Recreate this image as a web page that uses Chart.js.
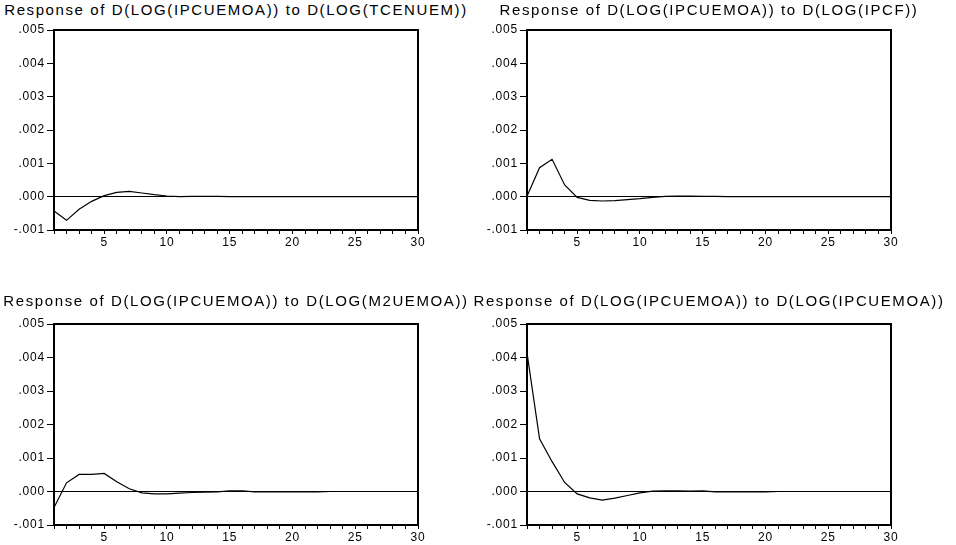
<!DOCTYPE html>
<html>
<head>
<meta charset="utf-8">
<script src="https://cdn.jsdelivr.net/npm/chart.js@4.4.0/dist/chart.umd.min.js"></script>
<style>
  html, body { margin: 0; padding: 0; background: #fff; }
  #page { position: relative; width: 956px; height: 545px; overflow: hidden; }
  #page canvas { position: absolute; left: 0; top: 0; }
  .title {
    position: absolute; white-space: nowrap; color: #000;
    font-family: 'Liberation Sans', Arial, sans-serif; font-size: 15px;
    letter-spacing: 1.6px; line-height: 20px; transform: translateX(-50%);
  }
</style>
</head>
<body>
<div id="page"></div>
<script>
// impulse response horizons (periods)
const periods = [1, 2, 3, 4, 5, 6, 7, 8, 9, 10, 11, 12, 13, 14, 15,
                 16, 17, 18, 19, 20, 21, 22, 23, 24, 25, 26, 27, 28, 29, 30];
const xTickLabels = [5, 10, 15, 20, 25, 30];
const yTicks = [-0.001, 0, 0.001, 0.002, 0.003, 0.004, 0.005];

const titles = [
  'Response of D(LOG(IPCUEMOA)) to D(LOG(TCENUEM))',
  'Response of D(LOG(IPCUEMOA)) to D(LOG(IPCF))',
  'Response of D(LOG(IPCUEMOA)) to D(LOG(M2UEMOA))',
  'Response of D(LOG(IPCUEMOA)) to D(LOG(IPCUEMOA))'
];

const respTcenuem = [-0.00043, -0.00071, -0.00038, -0.00014, 0.00003, 0.00013, 0.00016, 0.00011, 0.00006, 0.00002,
                     0.00000, 0.00001, 0.00001, 0.00001, 0.00000, 0, 0, 0, 0, 0,
                     0, 0, 0, 0, 0, 0, 0, 0, 0, 0];
const respIpcf = [0.00001, 0.00087, 0.00112, 0.00035, -0.00002, -0.00011, -0.00013, -0.00012, -0.00009, -0.00006,
                  -0.00002, 0.00001, 0.00002, 0.00002, 0.00001, 0.00001, 0, 0, 0, 0,
                  0, 0, 0, 0, 0, 0, 0, 0, 0, 0];
const respM2 = [-0.00048, 0.00026, 0.00051, 0.00051, 0.00054, 0.00029, 0.00008, -0.00004, -0.00007, -0.00007,
                -0.00005, -0.00003, -0.00002, -0.00001, 0.00002, 0.00002, -0.00001, -0.00001, -0.00001, -0.00001,
                -0.00001, -0.00001, 0, 0, 0, 0, 0, 0, 0, 0];
const respIpc = [0.00414, 0.00157, 0.00089, 0.00027, -0.00007, -0.00019, -0.00026, -0.00020, -0.00012, -0.00004,
                 0.00001, 0.00002, 0.00002, 0.00001, 0.00002, -0.00001, -0.00001, -0.00001, -0.00001, -0.00001,
                 0, 0, 0, 0, 0, 0, 0, 0, 0, 0];

const series = [respTcenuem, respIpcf, respM2, respIpc];

// plot boxes on the page: left, top, right, bottom
const boxes = [
  { l: 54, t: 30, r: 418, b: 230 },
  { l: 527, t: 30, r: 891, b: 230 },
  { l: 54, t: 324, r: 418, b: 525 },
  { l: 527, t: 324, r: 891, b: 525 }
];

const W = 956, H = 545, YW = 50, XH = 22;

Chart.defaults.font.family = "'Liberation Sans', Arial, sans-serif";
Chart.defaults.font.size = 12;
Chart.defaults.color = '#000';

const fmt = (v) => {
  if (Math.abs(v) < 1e-9) return '.000';
  return v.toFixed(3).replace('0.', '.');
};

const framePlugin = {
  id: 'frame',
  beforeDraw(chart) {
    chart.ctx.letterSpacing = '0.8px';
  },
  afterDatasetsDraw(chart) {
    const { ctx, chartArea: a } = chart;
    ctx.save();
    ctx.strokeStyle = '#000';
    ctx.lineWidth = 2;
    ctx.strokeRect(a.left, a.top, a.right - a.left, a.bottom - a.top);
    ctx.restore();
  }
};

const page = document.getElementById('page');

boxes.forEach((box, i) => {
  const title = document.createElement('div');
  title.className = 'title';
  title.textContent = titles[i];
  title.style.left = ((box.l + box.r) / 2) + 'px';
  title.style.top = (i < 2 ? 0 : 291) + 'px';
  page.appendChild(title);

  const canvas = document.createElement('canvas');
  canvas.width = W;
  canvas.height = H;
  page.appendChild(canvas);

  new Chart(canvas.getContext('2d'), {
    type: 'line',
    data: {
      datasets: [{
        data: periods.map((p, k) => ({ x: p, y: series[i][k] })),
        borderColor: '#000',
        borderWidth: 1.2,
        pointRadius: 0,
        tension: 0,
        fill: false
      }]
    },
    options: {
      responsive: false,
      animation: false,
      events: [],
      layout: {
        padding: { left: box.l - YW, top: box.t, right: W - box.r, bottom: H - box.b - XH }
      },
      plugins: { legend: { display: false }, tooltip: { enabled: false } },
      scales: {
        x: {
          type: 'linear',
          min: 1,
          max: 30,
          afterBuildTicks: (s) => { s.ticks = periods.map(v => ({ value: v })); },
          afterFit: (s) => { s.height = XH; },
          border: { display: false },
          grid: { drawOnChartArea: false, drawTicks: true, tickLength: 4, tickColor: '#000', lineWidth: 1 },
          ticks: {
            autoSkip: false, maxRotation: 0, padding: 1,
            callback: (v) => xTickLabels.includes(v) ? String(v) : ''
          }
        },
        y: {
          min: -0.001,
          max: 0.005,
          afterBuildTicks: (s) => { s.ticks = yTicks.map(v => ({ value: v })); },
          afterFit: (s) => { s.width = YW; },
          border: { display: false },
          grid: {
            drawTicks: true, tickLength: 7, tickColor: '#000', lineWidth: 1,
            color: (c) => (c.tick && Math.abs(c.tick.value) < 1e-9) ? '#000' : 'rgba(0,0,0,0)'
          },
          ticks: { padding: 2, callback: fmt }
        }
      }
    },
    plugins: [framePlugin]
  });
});
</script>
</body>
</html>
